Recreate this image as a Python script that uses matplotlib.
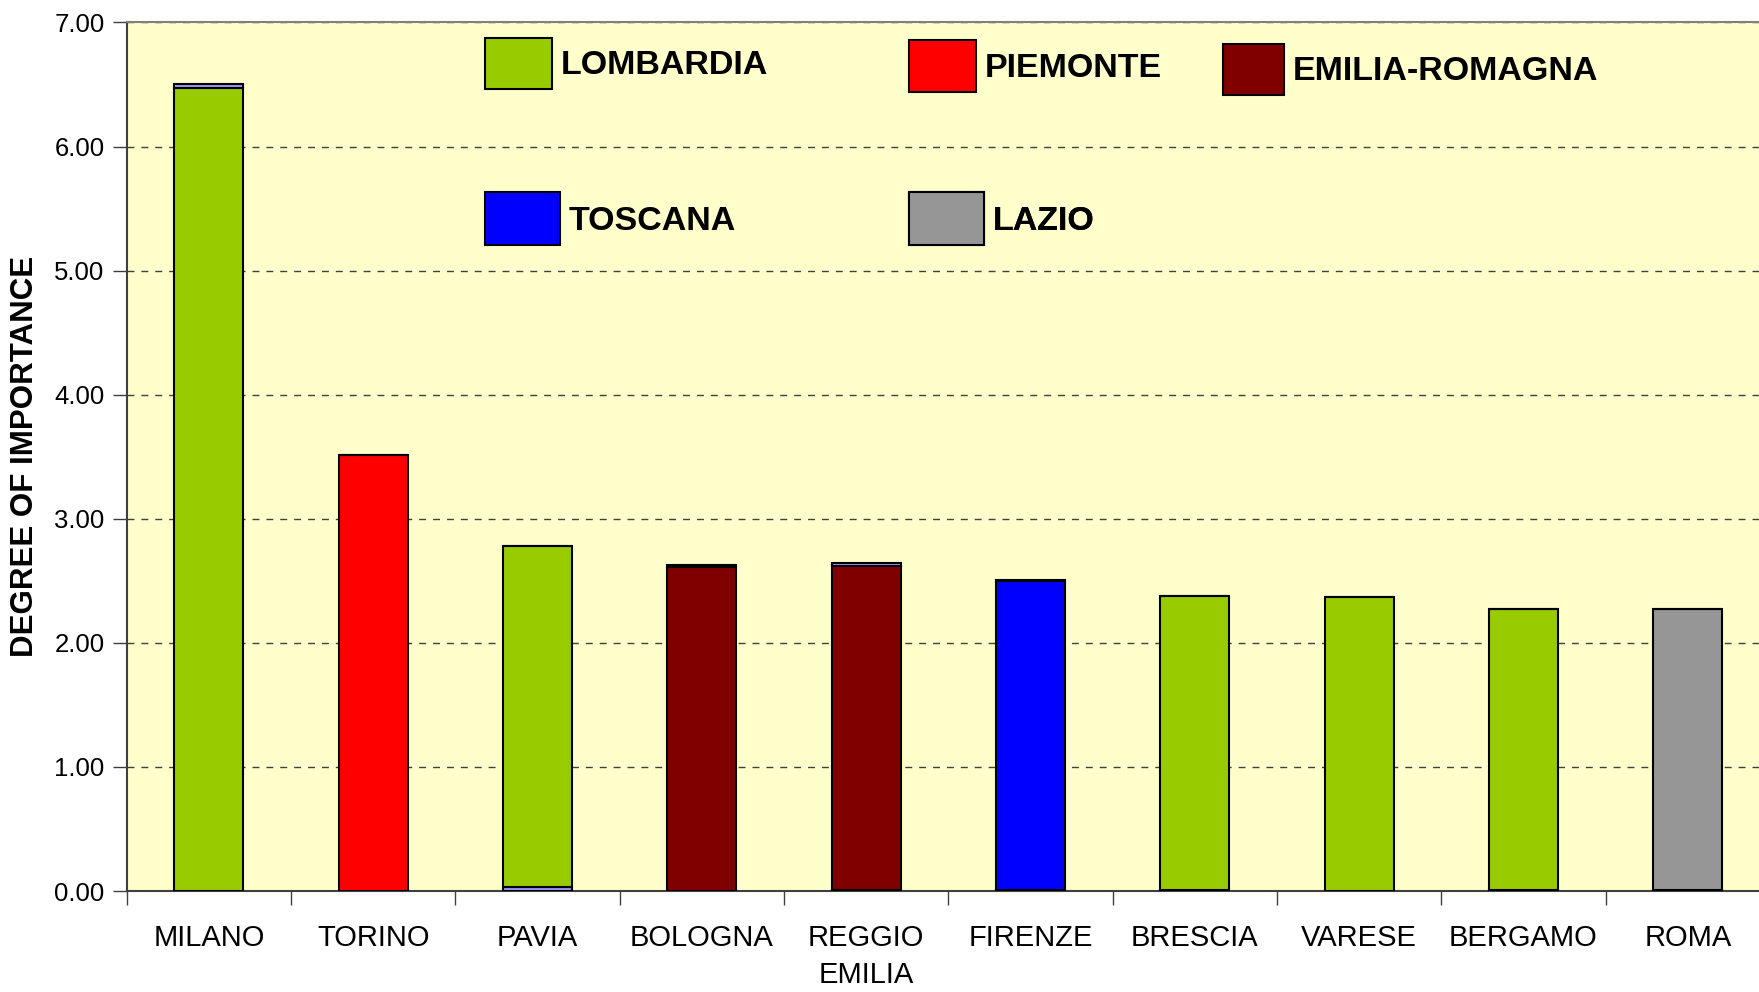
import numpy as np
import matplotlib.pyplot as plt
from matplotlib.ticker import FormatStrFormatter, FixedLocator

plt.rcParams['font.family'] = ['Liberation Sans', 'DejaVu Sans']

# data
cities = ['MILANO', 'TORINO', 'PAVIA', 'BOLOGNA', 'REGGIO\nEMILIA',
          'FIRENZE', 'BRESCIA', 'VARESE', 'BERGAMO', 'ROMA']
regions = ['LOMBARDIA', 'PIEMONTE', 'EMILIA-ROMAGNA', 'LAZIO', 'TOSCANA']
city_region = ['LOMBARDIA', 'PIEMONTE', 'LOMBARDIA', 'EMILIA-ROMAGNA', 'EMILIA-ROMAGNA',
               'TOSCANA', 'LOMBARDIA', 'LOMBARDIA', 'LOMBARDIA', 'LAZIO']
values = [6.47, 3.51, 2.75, 2.61, 2.61, 2.49, 2.37, 2.37, 2.26, 2.26]
# thin extra slices visible at the bottom / top of some bars
bottom_slice = [0.00, 0.00, 0.03, 0.00, 0.01, 0.01, 0.01, 0.00, 0.01, 0.01]
top_slice = [0.03, 0.00, 0.00, 0.02, 0.02, 0.01, 0.00, 0.00, 0.00, 0.00]

region_colors = {'LOMBARDIA': '#99CC00', 'PIEMONTE': '#FF0000',
                 'EMILIA-ROMAGNA': '#800000', 'TOSCANA': '#0000FF',
                 'LAZIO': '#969696'}
slice_color = '#9999FF'

fig = plt.figure(figsize=(17.59, 9.92), dpi=100)
ax = fig.add_axes([0.0721, 0.1018, 0.9341, 0.8756])
ax.set_facecolor('#FFFFCC')

x = np.arange(len(cities))
width = 0.42
bottom = np.array(bottom_slice)
main = np.array(values)

ax.bar(x, bottom, width=width, color=slice_color, edgecolor='black', linewidth=1.5, zorder=3)
handles = {}
for reg in regions:
    mask = np.array([r == reg for r in city_region])
    b = ax.bar(x[mask], main[mask], bottom=bottom[mask], width=width,
               color=region_colors[reg], edgecolor='black', linewidth=1.5, zorder=3)
    handles[reg] = b
ax.bar(x, top_slice, bottom=bottom + main, width=width, color=slice_color,
       edgecolor='black', linewidth=1.5, zorder=3)

ax.set_xlim(-0.5, len(cities) - 0.5)
ax.set_ylim(0, 7)
ax.set_yticks(np.arange(0, 8, 1))
ax.yaxis.set_major_formatter(FormatStrFormatter('%.2f'))
ax.set_xticks(x)
ax.set_xticklabels(cities, fontsize=21, linespacing=1.38)
ax.xaxis.set_minor_locator(FixedLocator(np.arange(-0.5, len(cities), 1)))
ax.tick_params(axis='x', which='major', length=0, pad=24)
ax.tick_params(axis='x', which='minor', length=10, width=1, color='#404040')
ax.tick_params(axis='y', length=10, width=1, color='#404040', labelsize=18.5, pad=6)

ax.yaxis.grid(True, linestyle=(0, (5, 5)), color='#404040', linewidth=1, zorder=0)
ax.set_axisbelow(True)

ax.spines['left'].set_color('#404040')
ax.spines['left'].set_linewidth(1.5)
ax.spines['bottom'].set_color('#404040')
ax.spines['bottom'].set_linewidth(1.5)
ax.spines['top'].set_color('#808080')
ax.spines['top'].set_linewidth(1.5)
ax.spines['right'].set_visible(False)

ax.set_ylabel('DEGREE OF IMPORTANCE', fontsize=22.5, fontweight='bold')
ax.yaxis.set_label_coords(-0.053, 0.5)

# legend entries scattered inside the plot area: (region, x, y, handle w, handle h)
legend_spots = [('LOMBARDIA', 0.218, 0.953, 1.97, 1.93),
                ('PIEMONTE', 0.476, 0.950, 1.97, 2.0),
                ('EMILIA-ROMAGNA', 0.667, 0.946, 1.8, 1.93),
                ('TOSCANA', 0.218, 0.774, 2.2, 2.02),
                ('LAZIO', 0.476, 0.774, 2.2, 2.02)]
for reg, lx, ly, hl, hh in legend_spots:
    leg = ax.legend([handles[reg]], [reg], loc='center left', bbox_to_anchor=(lx, ly),
                    frameon=False, borderpad=0, borderaxespad=0,
                    handlelength=hl, handleheight=hh, handletextpad=0.25,
                    prop={'size': 24.5, 'weight': 'bold'})
    ax.add_artist(leg)

fig.savefig('out.png', dpi=100)
